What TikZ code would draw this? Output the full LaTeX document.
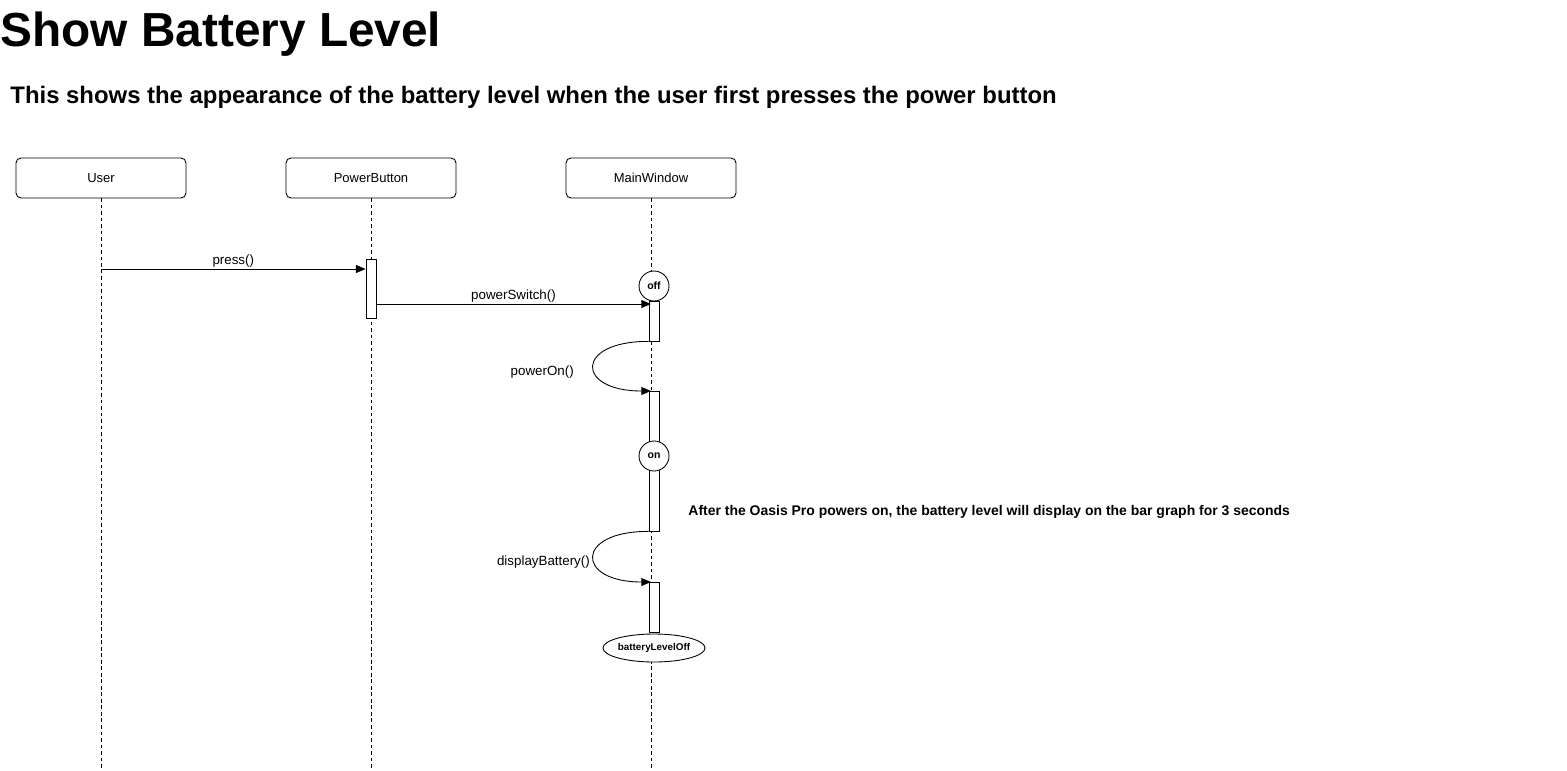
\documentclass[tikz,border=0pt]{standalone}
\usepackage{fontspec}
\setmainfont{Liberation Sans}
\usetikzlibrary{arrows.meta,positioning,shapes.geometric}

\tikzset{
  head/.style={draw, rounded corners=2.8pt, minimum width=3.4cm, minimum height=0.8cm,
    font=\fontsize{7.4pt}{9pt}\selectfont},
  bar/.style={draw, fill=white, minimum width=0.2cm, inner sep=0pt},
  state/.style={draw, circle, fill=white, minimum size=0.6cm, inner sep=0pt,
    font=\bfseries\fontsize{6pt}{7pt}\selectfont},
  msg/.style={font=\fontsize{7.6pt}{9pt}\selectfont, inner sep=1pt},
  life/.style={dash pattern=on 2pt off 1.7pt}
}

\begin{document}
\begin{tikzpicture}[x=0.02cm, y=-0.02cm, line width=0.5pt,
  >={Triangle[length=5.5pt, width=4.5pt]}]
\useasboundingbox (0,0) rectangle (1567,770);

\node[anchor=base west, inner sep=0pt, font=\bfseries\fontsize{27.2pt}{30pt}\selectfont]
  (title) at (0,47) {Show Battery Level};
\node[anchor=base west, inner sep=0pt, font=\bfseries\fontsize{13.6pt}{16pt}\selectfont]
  (subtitle) at (10,104) {This shows the appearance of the battery level when the user first presses the power button};

% lifelines
\foreach \n/\l/\x in {user/User/101, pb/PowerButton/371, mw/MainWindow/651}
  \node[head] (\n) at (\x,178) {\l};

\foreach \n in {user,pb,mw}
  \draw[life] (\n.south) -- (\n.south |- 0,770);

% activations
\node[bar, minimum height=1.18cm] (act-pb) at (371,288.5) {};
\node[bar, minimum height=0.8cm] (act-mw1) at (654,321) {};
\node[bar, minimum height=2.8cm] (act-mw2) at (654,461) {};
\node[bar, minimum height=1.0cm] (act-mw3) at (654,607) {};

% states
\node[state] (off) at (654,286) {off};
\node[state] (on) at (654,456) {on};
\node[draw, ellipse, fill=white, minimum width=1.84cm, minimum height=0.56cm, inner sep=0pt,
  font=\bfseries\fontsize{5.6pt}{7pt}\selectfont] (lvl) at (654,648) {batteryLevelOff};

% messages
\coordinate (press-start) at (101,269);
\draw[->] (press-start) -- (press-start -| act-pb.west)
  node[msg, midway, above] {press()};

\coordinate (switch-start) at (376,304);
\coordinate (switch-end) at (651,304);
\draw[->] (switch-start) -- (switch-end)
  node[msg, midway, above] {powerSwitch()};

\coordinate (on-end) at (651,391);
\draw[->] (act-mw1.south west) .. controls (575,341) and (575,391) .. (on-end);
\node[msg, anchor=east] (lbl-on) at (576,372) {powerOn()};

\coordinate (disp-end) at (651,582);
\draw[->] (act-mw2.south west) .. controls (575,531) and (575,582) .. (disp-end);
\node[msg, anchor=east] (lbl-disp) at (592,562) {displayBattery()};

% note
\node[anchor=west, inner sep=0pt, font=\bfseries\fontsize{7.95pt}{9pt}\selectfont]
  (note) at (688,512) {After the Oasis Pro powers on, the battery level will display on the bar graph for 3 seconds};

\end{tikzpicture}
\end{document}
